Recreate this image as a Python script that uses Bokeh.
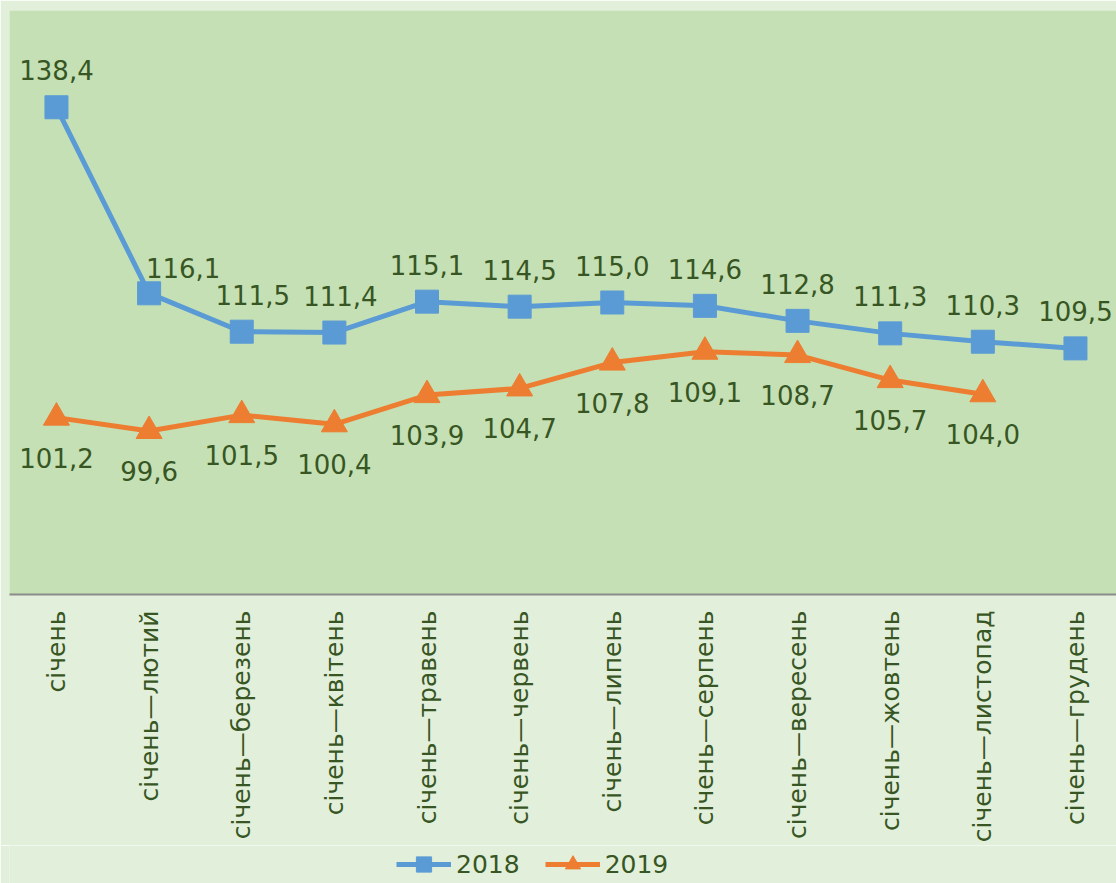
import math
from bokeh.plotting import figure
from bokeh.layouts import column
from bokeh.models import Range1d, FixedTicker, Legend, LegendItem, ColumnDataSource
from bokeh.core.properties import value
from bokeh.embed import file_html
from bokeh.resources import INLINE

months = ["січень", "січень—лютий", "січень—березень", "січень—квітень",
          "січень—травень", "січень—червень", "січень—липень", "січень—серпень",
          "січень—вересень", "січень—жовтень", "січень—листопад", "січень—грудень"]
v2018 = [138.4, 116.1, 111.5, 111.4, 115.1, 114.5, 115.0, 114.6, 112.8, 111.3, 110.3, 109.5]
v2019 = [101.2, 99.6, 101.5, 100.4, 103.9, 104.7, 107.8, 109.1, 108.7, 105.7, 104.0]
series_names = ["2018", "2019"]

# label placement (screen-pixel nudges, style only)
dx18 = [0, 34, 11, 6, 0, 0, 0, 0, 0, 0, 0, 0]
dy18 = [-37, -25, -37, -37, -37, -37, -37, -37, -37, -37, -37, -37]

BLUE = "#5b9bd5"
ORANGE = "#ed7d31"
TXT = "#375623"
OUTER = "#e2efda"
INNER = "#c5e0b4"
FONT = "DejaVu Sans"

def fmt(v):
    return f"{v:.1f}".replace(".", ",")

x18 = list(range(len(v2018)))
x19 = list(range(len(v2019)))
s18 = ColumnDataSource(dict(x=x18, y=v2018, t=[fmt(v) for v in v2018], dx=dx18, dy=dy18))
s19 = ColumnDataSource(dict(x=x19, y=v2019, t=[fmt(v) for v in v2019]))

p = figure(width=1116, height=845, output_backend="svg", toolbar_location=None,
           x_range=Range1d(-0.507, 11.443), y_range=Range1d(80, 150),
           min_border_left=9, min_border_right=0, min_border_top=10, min_border_bottom=249)
p.background_fill_color = INNER
p.border_fill_color = OUTER
p.outline_line_color = None
p.grid.visible = False
p.yaxis.visible = False

ax = p.xaxis[0]
ax.ticker = FixedTicker(ticks=x18)
ax.major_label_overrides = {i: m for i, m in enumerate(months)}
ax.major_label_orientation = math.pi / 2
ax.major_label_text_font = FONT
ax.major_label_text_font_size = "25px"
ax.major_label_text_color = TXT
ax.major_label_standoff = 10
ax.major_tick_line_color = None
ax.minor_tick_line_color = None
ax.axis_line_color = "#8c8c8c"
ax.axis_line_width = 2

p.line("x", "y", source=s18, line_color=BLUE, line_width=5)
p.scatter("x", "y", source=s18, marker="square", size=23, fill_color=BLUE, line_color=BLUE)
p.line("x", "y", source=s19, line_color=ORANGE, line_width=5)
p.scatter("x", "y", source=s19, marker="triangle", size=26, fill_color=ORANGE, line_color=ORANGE)

p.text("x", "y", text="t", source=s18, x_offset="dx", y_offset="dy", text_align="center",
       text_baseline="middle", text_font=value(FONT), text_font_size="26px", text_color=TXT)
p.text("x", "y", text="t", source=s19, y_offset=40, text_align="center", text_baseline="middle",
       text_font=value(FONT), text_font_size="26px", text_color=TXT)

# legend strip below the chart (same data, drawn outside its visible range)
lf = figure(width=1116, height=38, output_backend="svg", toolbar_location=None,
            x_range=Range1d(0, 1), y_range=Range1d(0, 1),
            min_border_left=0, min_border_right=0, min_border_top=0, min_border_bottom=0)
lf.background_fill_color = OUTER
lf.border_fill_color = OUTER
lf.outline_line_color = None
lf.axis.visible = False
lf.grid.visible = False
ll18 = lf.line("x", "y", source=s18, line_color=BLUE, line_width=5)
lm18 = lf.scatter("x", "y", source=s18, marker="square", size=23, fill_color=BLUE, line_color=BLUE)
ll19 = lf.line("x", "y", source=s19, line_color=ORANGE, line_width=5)
lm19 = lf.scatter("x", "y", source=s19, marker="triangle", size=26, fill_color=ORANGE, line_color=ORANGE)

legend = Legend(items=[LegendItem(label=series_names[0], renderers=[ll18, lm18]),
                       LegendItem(label=series_names[1], renderers=[ll19, lm19])],
                orientation="horizontal", location=(387, 0),
                label_text_font=FONT, label_text_font_size="25px", label_text_color=TXT,
                background_fill_alpha=0, border_line_color=None,
                glyph_width=55, glyph_height=38, spacing=25, padding=0, margin=0,
                label_standoff=5)
lf.add_layout(legend, "center")

layout = column(p, lf, spacing=0)
html = file_html(layout, INLINE)
html = html.replace("<body>", '<body style="background:#e2efda;">', 1)
open("out.html", "w").write(html)
